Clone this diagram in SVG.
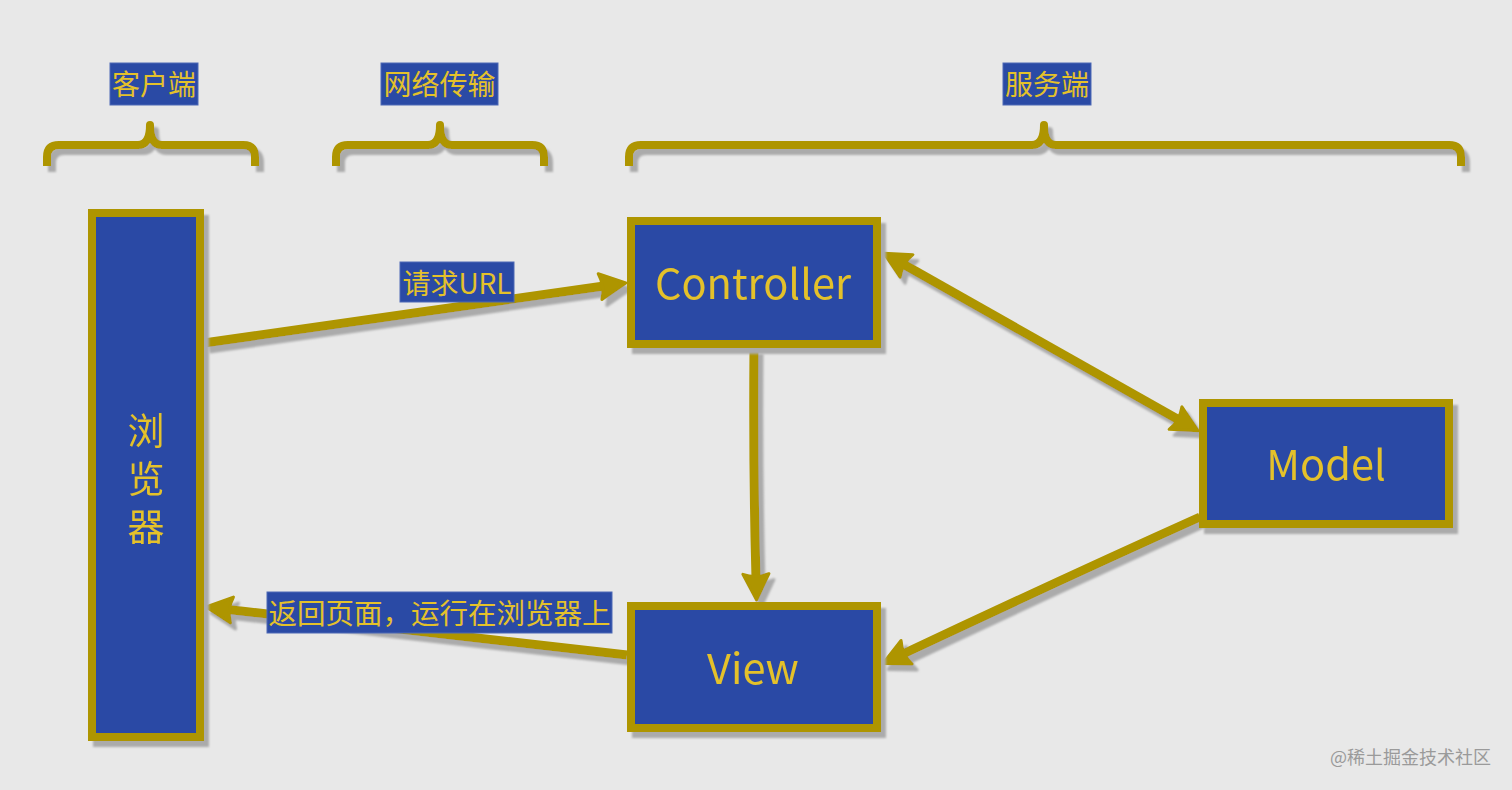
<svg xmlns="http://www.w3.org/2000/svg" width="1512" height="790" viewBox="0 0 1512 790">
<style>
.bg{fill:#e8e8e8}
.box{fill:#2a4aa5;stroke:#ae9500;stroke-width:8}
.lbl{fill:#2a4aa5;stroke:#4d68b5;stroke-width:1}
.t{font-family:"Noto Sans CJK SC","Noto Sans",sans-serif;fill:#e4c12b;text-anchor:middle}
.big{font-size:41.5px}
.mid{font-size:28px}
.brace{fill:none;stroke:#ae9500;stroke-width:8;stroke-linecap:butt;stroke-linejoin:round}
.conn{fill:none;stroke:#ae9500;stroke-width:9}
.wm{font-family:"Noto Sans CJK SC",sans-serif;font-size:18px;fill:#9a9a9a}
</style>
<defs>
<filter id="sh" filterUnits="userSpaceOnUse" x="0" y="0" width="1512" height="790">
<feOffset in="SourceAlpha" dx="5" dy="6" result="o"/>
<feGaussianBlur in="o" stdDeviation="0.8" result="b"/>
<feFlood flood-color="#ababab"/>
<feComposite in2="b" operator="in"/>
<feMerge><feMergeNode/><feMergeNode in="SourceGraphic"/></feMerge>
</filter>
<marker id="ah" markerUnits="userSpaceOnUse" markerWidth="60" markerHeight="60" viewBox="-30 -30 60 60" refX="0" refY="0" orient="auto-start-reverse" overflow="visible">
<path d="M22,0 L-4,-13 Q1,0 -4,13 Z" fill="#ae9500" stroke="#ae9500" stroke-width="3" stroke-linejoin="round"/>
</marker>
</defs>
<rect class="bg" x="0" y="0" width="1512" height="790"/>

<g id="braces" filter="url(#sh)">
<path class="brace" d="M47,166 V157 Q47,145 59,145 H138 Q150,145 150,125 Q150,145 162,145 H243 Q255,145 255,157 V166"/>
<path class="brace" d="M336,166 V157 Q336,145 348,145 H428 Q440,145 440,125 Q440,145 452,145 H532 Q544,145 544,157 V166"/>
<path class="brace" d="M629,166 V157 Q629,145 641,145 H1032 Q1044,145 1044,125 Q1044,145 1056,145 H1449 Q1461,145 1461,157 V166"/>
</g>

<g id="header-client">
<rect class="lbl" x="110" y="63" width="88" height="42"/>
<text class="t mid" x="154" y="95">客户端</text>
</g>
<g id="header-network">
<rect class="lbl" x="381" y="63" width="117" height="42"/>
<text class="t mid" x="439.5" y="95">网络传输</text>
</g>
<g id="header-server">
<rect class="lbl" x="1003" y="63" width="88" height="42"/>
<text class="t mid" x="1047" y="95">服务端</text>
</g>

<g id="connectors" filter="url(#sh)">
<path class="conn" d="M204,343 L604,286" marker-end="url(#ah)"/>
<path class="conn" d="M903,264 L1179,420" marker-start="url(#ah)" marker-end="url(#ah)"/>
<path class="conn" d="M754,348 Q753,470 756,578" marker-end="url(#ah)"/>
<path class="conn" d="M1200,517 Q1060,580 903,654" marker-end="url(#ah)"/>
<path class="conn" d="M627,655 L228,609.5" marker-end="url(#ah)"/>
</g>

<g id="browser" filter="url(#sh)">
<rect class="box" x="92" y="213" width="108" height="524"/>
<text class="t" style="font-size:37px;text-anchor:start;letter-spacing:11px" writing-mode="vertical-rl" x="146" y="412">浏览器</text>
</g>

<g id="controller" filter="url(#sh)">
<rect class="box" x="631" y="221" width="246" height="123"/>
<text class="t big" x="753" y="299">Controller</text>
</g>

<g id="model" filter="url(#sh)">
<rect class="box" x="1203" y="403" width="246" height="121"/>
<text class="t big" x="1326" y="480">Model</text>
</g>

<g id="view" filter="url(#sh)">
<rect class="box" x="631" y="606" width="246" height="122"/>
<text class="t big" x="753" y="684">View</text>
</g>

<g id="label-request">
<rect class="lbl" x="400" y="262" width="114" height="40"/>
<text class="t mid" x="457" y="294">请求URL</text>
</g>
<g id="label-return">
<rect class="lbl" x="267" y="592" width="345" height="41"/>
<text class="t" style="font-size:28.5px" x="439.5" y="624">返回页面，运行在浏览器上</text>
</g>

<text class="wm" x="1330" y="764">@稀土掘金技术社区</text>
</svg>
